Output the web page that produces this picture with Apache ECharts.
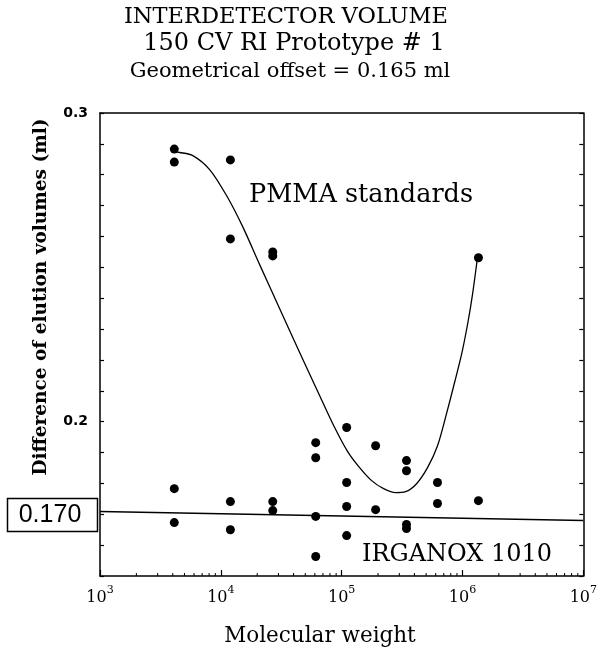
<!DOCTYPE html>
<html><head><meta charset="utf-8">
<script src="https://cdn.jsdelivr.net/npm/echarts@6/dist/echarts.min.js"></script>
<style>html,body{margin:0;padding:0;background:#fff}#c{width:600px;height:659px}</style>
</head><body><div id="c"></div><script>
const titleLines = ['INTERDETECTOR VOLUME', '150 CV RI Prototype # 1', 'Geometrical offset = 0.165 ml'];
const xAxisTitle = 'Molecular weight';
const yAxisTitle = 'Difference of elution volumes (ml)';
const xTickValues = [1e3, 1e4, 1e5, 1e6, 1e7];
const yLabelValues = [0.2, 0.3];
const minorTickMW = [2e3,3e3,4e3,5e3,6e3,7e3,8e3,9e3, 2e4,3e4,4e4,5e4,6e4,7e4,8e4,9e4, 2e5,3e5,4e5,5e5,6e5,7e5,8e5,9e5, 2e6,3e6,4e6,5e6,6e6,7e6,8e6,9e6];
const pmmaMW   = [4120, 4120, 12000, 12000, 26900, 26900, 61000, 61000, 110000, 110000, 191000, 344000, 344000, 621000, 1355000];
const pmmaDiff = [0.2883, 0.2841, 0.2848, 0.2592, 0.2550, 0.2537, 0.1932, 0.1883, 0.1981, 0.1803, 0.1922, 0.1874, 0.1841, 0.1803, 0.2531];
const irgMW    = [4120, 4120, 12000, 12000, 26900, 26900, 61000, 61000, 110000, 110000, 191000, 344000, 344000, 621000, 1355000];
const irgDiff  = [0.1783, 0.1673, 0.1741, 0.1650, 0.1741, 0.1712, 0.1693, 0.1563, 0.1725, 0.1631, 0.1715, 0.1667, 0.1654, 0.1735, 0.1744];
const pmmaFitMW   = [4010, 4580, 5870, 8110, 11210, 15200, 21000, 30700, 45000, 65800, 87500, 112100, 140800, 177000, 222400, 279500, 338000, 416700, 513600, 621500, 737600, 858800, 981100, 1100000, 1209000, 1330000];
const pmmaFitDiff = [0.2874, 0.2872, 0.2862, 0.2816, 0.2731, 0.2631, 0.2508, 0.2366, 0.2223, 0.2084, 0.1981, 0.1903, 0.1851, 0.1809, 0.1783, 0.1770, 0.1773, 0.1799, 0.1851, 0.1922, 0.2026, 0.2126, 0.2217, 0.2314, 0.2411, 0.2531];
const irgFitMW   = [1e3, 1e7];
const irgFitDiff = [0.1709, 0.1680];
const interceptLabel = '0.170';
const pmmaLabel = 'PMMA standards';
const irgLabel = 'IRGANOX 1010';

const zip = (a, b) => a.map((v, i) => [v, b[i]]);
const serif = 'DejaVu Serif';
const sans = 'Liberation Sans';

function txt(x, y, text, size, family, weight, rot) {
  return {type: 'text', x: x, y: y, rotation: rot || 0,
    style: {text: text, fontFamily: family, fontSize: size, fontWeight: weight || 'normal', fill: '#000', textAlign: 'center', textVerticalAlign: 'middle'}};
}

const chart = echarts.init(document.getElementById('c'), null, {renderer: 'canvas'});
chart.setOption({
  backgroundColor: '#fff',
  animation: false,
  grid: {left: 100, right: 16, top: 113, bottom: 83},
  xAxis: [{
    type: 'log', logBase: 10, min: xTickValues[0], max: xTickValues[xTickValues.length - 1],
    axisLine: {lineStyle: {color: '#000', width: 1.5}},
    axisTick: {inside: true, length: 6, lineStyle: {color: '#000', width: 1.2}},
    minorTick: {show: false},
    splitLine: {show: false},
    axisLabel: {
      margin: 9,
      formatter: v => '{b|10}{s|' + Math.round(Math.log10(v)) + '}',
      rich: {
        b: {fontFamily: serif, fontSize: 16, color: '#000', lineHeight: 21, verticalAlign: 'bottom'},
        s: {fontFamily: serif, fontSize: 11, color: '#000', lineHeight: 11, verticalAlign: 'top'}
      }
    }
  }, {
    type: 'log', logBase: 10, position: 'top', min: xTickValues[0], max: xTickValues[xTickValues.length - 1],
    axisLine: {lineStyle: {color: '#000', width: 1.5}},
    axisTick: {show: false}, axisLabel: {show: false}, splitLine: {show: false}
  }],
  yAxis: [{
    type: 'value', min: 0.15, max: 0.3, interval: 0.01,
    axisLine: {show: true, lineStyle: {color: '#000', width: 1.5}},
    axisTick: {show: true, inside: true, length: 4, lineStyle: {color: '#000', width: 1.2}},
    splitLine: {show: false},
    axisLabel: {
      margin: 12, color: '#000', fontFamily: 'DejaVu Sans', fontWeight: 'bold', fontSize: 14,
      formatter: v => yLabelValues.some(t => Math.abs(t - v) < 1e-9) ? v.toFixed(1) : ''
    }
  }, {
    type: 'value', min: 0.15, max: 0.3, interval: 0.01, position: 'right',
    axisLine: {show: true, lineStyle: {color: '#000', width: 1.5}},
    axisTick: {show: true, inside: true, length: 4, lineStyle: {color: '#000', width: 1.2}},
    axisLabel: {show: false}, splitLine: {show: false}
  }],
  series: [
    {type: 'line', name: 'PMMA fit', data: zip(pmmaFitMW, pmmaFitDiff), smooth: 0.3, showSymbol: false,
     lineStyle: {color: '#000', width: 1.3}, z: 2},
    {type: 'line', name: 'IRGANOX fit', data: zip(irgFitMW, irgFitDiff), showSymbol: false,
     lineStyle: {color: '#000', width: 1.5}, z: 2},
    {type: 'scatter', name: 'PMMA standards', data: zip(pmmaMW, pmmaDiff), symbol: 'circle', symbolSize: 9,
     itemStyle: {color: '#000', opacity: 1}, z: 3},
    {type: 'scatter', name: 'IRGANOX 1010', data: zip(irgMW, irgDiff), symbol: 'circle', symbolSize: 9,
     itemStyle: {color: '#000', opacity: 1}, z: 3},
    {type: 'scatter', name: 'minor ticks', data: minorTickMW.map(m => [m, 0.15]), symbol: 'rect',
     symbolSize: [1, 3], symbolOffset: [0, -1.5], itemStyle: {color: '#000', opacity: 1}, clip: false, silent: true, z: 1}
  ],
  graphic: [
    txt(286, 17, titleLines[0], 22.5, serif),
    txt(294, 44, titleLines[1], 24, serif),
    txt(290, 72, titleLines[2], 21, serif),
    txt(41, 297, yAxisTitle, 18.5, serif, 'bold', Math.PI / 2),
    txt(320, 636, xAxisTitle, 21.5, serif),
    txt(361, 195, pmmaLabel, 25.5, serif),
    txt(457, 555, irgLabel, 24, serif),
    {type: 'rect', shape: {x: 7.5, y: 498.5, width: 90, height: 33}, style: {fill: '#fff', stroke: '#000', lineWidth: 1.5}},
    txt(50, 515, interceptLabel, 25, sans)
  ]
});
</script></body></html>
